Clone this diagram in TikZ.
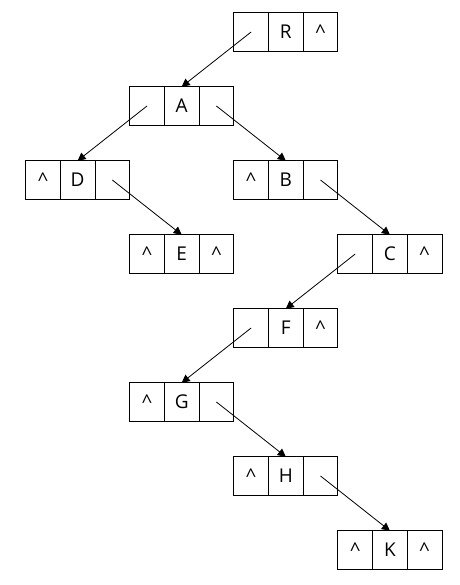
\documentclass[tikz,border=0pt]{standalone}
\usepackage{fontspec}
\setmainfont{Open Sans}
\usetikzlibrary{arrows.meta, positioning}

\newcommand{\nilptr}{\textasciicircum}

\begin{document}
\begin{tikzpicture}[
    x=1pt, y=1pt,
    node distance=35.5pt and 69.4pt,
    cell/.style={rectangle, draw, line width=0.8pt, minimum width=34.7pt, minimum height=38.5pt, inner sep=0pt, outer sep=0pt, font=\fontsize{19}{23}\selectfont},
    ptr/.style={-{Triangle[length=8pt, width=8pt]}, line width=0.8pt}
]
    \useasboundingbox (0,0) rectangle (459,-585);

    % middle cells hold the letters
    \node[cell] (R) at (285.8,-32) {R};
    \node[cell, below left=of R] (A) {A};
    \node[cell, below left=of A] (D) {D};
    \node[cell, below right=of A] (B) {B};
    \node[cell, below right=of D] (E) {E};
    \node[cell, below right=of B] (C) {C};
    \node[cell, below left=of C] (F) {F};
    \node[cell, below left=of F] (G) {G};
    \node[cell, below right=of G] (H) {H};
    \node[cell, below right=of H] (K) {K};

    % left and right pointer cells
    \foreach \n/\l/\r in {R//\nilptr, A//, D/\nilptr/, B/\nilptr/, E/\nilptr/\nilptr,
                          C//\nilptr, F//\nilptr, G/\nilptr/, H/\nilptr/, K/\nilptr/\nilptr} {
        \node[cell, left=0pt of \n] (\n-l) {\l};
        \node[cell, right=0pt of \n] (\n-r) {\r};
    }

    \draw[ptr] (R-l.center) -- (A.north);
    \draw[ptr] (A-l.center) -- (D.north);
    \draw[ptr] (A-r.center) -- (B.north);
    \draw[ptr] (D-r.center) -- (E.north);
    \draw[ptr] (B-r.center) -- (C.north);
    \draw[ptr] (C-l.center) -- (F.north);
    \draw[ptr] (F-l.center) -- (G.north);
    \draw[ptr] (G-r.center) -- (H.north);
    \draw[ptr] (H-r.center) -- (K.north);
\end{tikzpicture}
\end{document}
